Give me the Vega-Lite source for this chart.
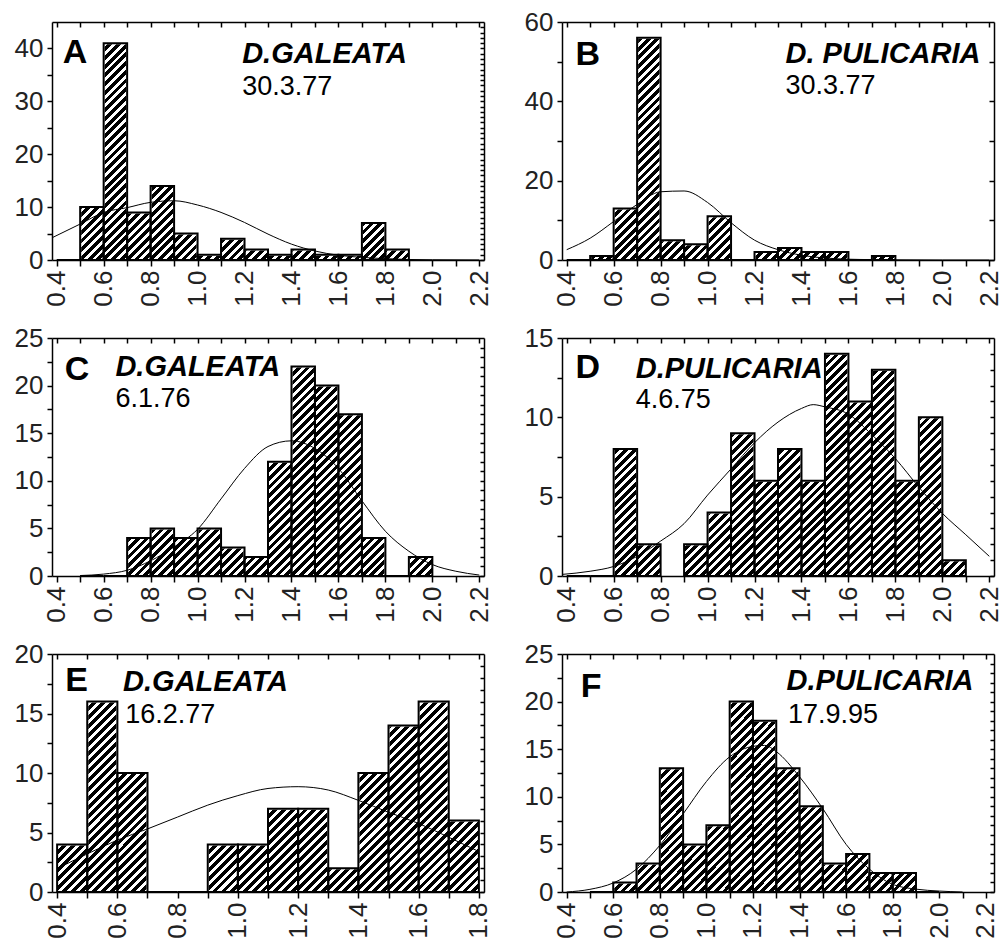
{
"$schema": "https://vega.github.io/schema/vega-lite/v6.json",
"background": "white",
"padding": {"left": 14, "top": 9, "right": 0, "bottom": 0},
"columns": 2,
"spacing": {"row": 78, "column": 78},
"bounds": "flush",
"data": {"values": [
{"p":"A","k":"b","lo":0.4,"hi":0.5,"n":0},{"p":"A","k":"b","lo":0.5,"hi":0.6,"n":10},{"p":"A","k":"b","lo":0.6,"hi":0.7,"n":41},{"p":"A","k":"b","lo":0.7,"hi":0.8,"n":9},{"p":"A","k":"b","lo":0.8,"hi":0.9,"n":14},{"p":"A","k":"b","lo":0.9,"hi":1.0,"n":5},{"p":"A","k":"b","lo":1.0,"hi":1.1,"n":1},{"p":"A","k":"b","lo":1.1,"hi":1.2,"n":4},{"p":"A","k":"b","lo":1.2,"hi":1.3,"n":2},{"p":"A","k":"b","lo":1.3,"hi":1.4,"n":1},{"p":"A","k":"b","lo":1.4,"hi":1.5,"n":2},{"p":"A","k":"b","lo":1.5,"hi":1.6,"n":1},{"p":"A","k":"b","lo":1.6,"hi":1.7,"n":1},{"p":"A","k":"b","lo":1.7,"hi":1.8,"n":7},{"p":"A","k":"b","lo":1.8,"hi":1.9,"n":2},
{"p":"B","k":"b","lo":0.4,"hi":0.5,"n":0},{"p":"B","k":"b","lo":0.5,"hi":0.6,"n":1},{"p":"B","k":"b","lo":0.6,"hi":0.7,"n":13},{"p":"B","k":"b","lo":0.7,"hi":0.8,"n":56},{"p":"B","k":"b","lo":0.8,"hi":0.9,"n":5},{"p":"B","k":"b","lo":0.9,"hi":1.0,"n":4},{"p":"B","k":"b","lo":1.0,"hi":1.1,"n":11},{"p":"B","k":"b","lo":1.1,"hi":1.2,"n":0},{"p":"B","k":"b","lo":1.2,"hi":1.3,"n":2},{"p":"B","k":"b","lo":1.3,"hi":1.4,"n":3},{"p":"B","k":"b","lo":1.4,"hi":1.5,"n":2},{"p":"B","k":"b","lo":1.5,"hi":1.6,"n":2},{"p":"B","k":"b","lo":1.6,"hi":1.7,"n":0},{"p":"B","k":"b","lo":1.7,"hi":1.8,"n":1},
{"p":"C","k":"b","lo":0.5,"hi":0.6,"n":0},{"p":"C","k":"b","lo":0.6,"hi":0.7,"n":0},{"p":"C","k":"b","lo":0.7,"hi":0.8,"n":4},{"p":"C","k":"b","lo":0.8,"hi":0.9,"n":5},{"p":"C","k":"b","lo":0.9,"hi":1.0,"n":4},{"p":"C","k":"b","lo":1.0,"hi":1.1,"n":5},{"p":"C","k":"b","lo":1.1,"hi":1.2,"n":3},{"p":"C","k":"b","lo":1.2,"hi":1.3,"n":2},{"p":"C","k":"b","lo":1.3,"hi":1.4,"n":12},{"p":"C","k":"b","lo":1.4,"hi":1.5,"n":22},{"p":"C","k":"b","lo":1.5,"hi":1.6,"n":20},{"p":"C","k":"b","lo":1.6,"hi":1.7,"n":17},{"p":"C","k":"b","lo":1.7,"hi":1.8,"n":4},{"p":"C","k":"b","lo":1.8,"hi":1.9,"n":0},{"p":"C","k":"b","lo":1.9,"hi":2.0,"n":2},
{"p":"D","k":"b","lo":0.4,"hi":0.5,"n":0},{"p":"D","k":"b","lo":0.5,"hi":0.6,"n":0},{"p":"D","k":"b","lo":0.6,"hi":0.7,"n":8},{"p":"D","k":"b","lo":0.7,"hi":0.8,"n":2},{"p":"D","k":"b","lo":0.9,"hi":1.0,"n":2},{"p":"D","k":"b","lo":1.0,"hi":1.1,"n":4},{"p":"D","k":"b","lo":1.1,"hi":1.2,"n":9},{"p":"D","k":"b","lo":1.2,"hi":1.3,"n":6},{"p":"D","k":"b","lo":1.3,"hi":1.4,"n":8},{"p":"D","k":"b","lo":1.4,"hi":1.5,"n":6},{"p":"D","k":"b","lo":1.5,"hi":1.6,"n":14},{"p":"D","k":"b","lo":1.6,"hi":1.7,"n":11},{"p":"D","k":"b","lo":1.7,"hi":1.8,"n":13},{"p":"D","k":"b","lo":1.8,"hi":1.9,"n":6},{"p":"D","k":"b","lo":1.9,"hi":2.0,"n":10},{"p":"D","k":"b","lo":2.0,"hi":2.1,"n":1},
{"p":"E","k":"b","lo":0.4,"hi":0.5,"n":4},{"p":"E","k":"b","lo":0.5,"hi":0.6,"n":16},{"p":"E","k":"b","lo":0.6,"hi":0.7,"n":10},{"p":"E","k":"b","lo":0.7,"hi":0.8,"n":0},{"p":"E","k":"b","lo":0.8,"hi":0.9,"n":0},{"p":"E","k":"b","lo":0.9,"hi":1.0,"n":4},{"p":"E","k":"b","lo":1.0,"hi":1.1,"n":4},{"p":"E","k":"b","lo":1.1,"hi":1.2,"n":7},{"p":"E","k":"b","lo":1.2,"hi":1.3,"n":7},{"p":"E","k":"b","lo":1.3,"hi":1.4,"n":2},{"p":"E","k":"b","lo":1.4,"hi":1.5,"n":10},{"p":"E","k":"b","lo":1.5,"hi":1.6,"n":14},{"p":"E","k":"b","lo":1.6,"hi":1.7,"n":16},{"p":"E","k":"b","lo":1.7,"hi":1.8,"n":6},
{"p":"F","k":"b","lo":0.5,"hi":0.6,"n":0},{"p":"F","k":"b","lo":0.6,"hi":0.7,"n":1},{"p":"F","k":"b","lo":0.7,"hi":0.8,"n":3},{"p":"F","k":"b","lo":0.8,"hi":0.9,"n":13},{"p":"F","k":"b","lo":0.9,"hi":1.0,"n":5},{"p":"F","k":"b","lo":1.0,"hi":1.1,"n":7},{"p":"F","k":"b","lo":1.1,"hi":1.2,"n":20},{"p":"F","k":"b","lo":1.2,"hi":1.3,"n":18},{"p":"F","k":"b","lo":1.3,"hi":1.4,"n":13},{"p":"F","k":"b","lo":1.4,"hi":1.5,"n":9},{"p":"F","k":"b","lo":1.5,"hi":1.6,"n":3},{"p":"F","k":"b","lo":1.6,"hi":1.7,"n":4},{"p":"F","k":"b","lo":1.7,"hi":1.8,"n":2},{"p":"F","k":"b","lo":1.8,"hi":1.9,"n":2},{"p":"F","k":"b","lo":1.9,"hi":2.0,"n":0},
{"p":"A","k":"c","x":0.38,"y":4.2},{"p":"A","k":"c","x":0.5,"y":6.8},{"p":"A","k":"c","x":0.6,"y":9.0},{"p":"A","k":"c","x":0.7,"y":9.9},{"p":"A","k":"c","x":0.8,"y":10.9},{"p":"A","k":"c","x":0.9,"y":11.2},{"p":"A","k":"c","x":1.0,"y":10.4},{"p":"A","k":"c","x":1.1,"y":9.0},{"p":"A","k":"c","x":1.2,"y":7.1},{"p":"A","k":"c","x":1.3,"y":4.9},{"p":"A","k":"c","x":1.4,"y":3.0},{"p":"A","k":"c","x":1.5,"y":1.7},{"p":"A","k":"c","x":1.6,"y":0.9},{"p":"A","k":"c","x":1.7,"y":0.5},{"p":"A","k":"c","x":1.8,"y":0.25},{"p":"A","k":"c","x":1.9,"y":0.1},{"p":"A","k":"c","x":2.0,"y":0.05},{"p":"A","k":"c","x":2.2,"y":0.01},
{"p":"B","k":"c","x":0.4,"y":2.6},{"p":"B","k":"c","x":0.5,"y":5.5},{"p":"B","k":"c","x":0.6,"y":9.7},{"p":"B","k":"c","x":0.7,"y":14},{"p":"B","k":"c","x":0.8,"y":17.2},{"p":"B","k":"c","x":0.9,"y":17.4},{"p":"B","k":"c","x":1.0,"y":14.5},{"p":"B","k":"c","x":1.1,"y":9.4},{"p":"B","k":"c","x":1.2,"y":5.0},{"p":"B","k":"c","x":1.3,"y":2.6},{"p":"B","k":"c","x":1.4,"y":1.2},{"p":"B","k":"c","x":1.5,"y":0.5},{"p":"B","k":"c","x":1.6,"y":0.2},{"p":"B","k":"c","x":1.7,"y":0.1},{"p":"B","k":"c","x":1.8,"y":0.05},{"p":"B","k":"c","x":2.0,"y":0},{"p":"B","k":"c","x":2.2,"y":0},
{"p":"C","k":"c","x":0.5,"y":0.05},{"p":"C","k":"c","x":0.6,"y":0.2},{"p":"C","k":"c","x":0.7,"y":0.6},{"p":"C","k":"c","x":0.8,"y":1.6},{"p":"C","k":"c","x":0.9,"y":3.05},{"p":"C","k":"c","x":1.0,"y":4.9},{"p":"C","k":"c","x":1.1,"y":8.1},{"p":"C","k":"c","x":1.2,"y":11.3},{"p":"C","k":"c","x":1.3,"y":13.6},{"p":"C","k":"c","x":1.4,"y":14.2},{"p":"C","k":"c","x":1.5,"y":13.4},{"p":"C","k":"c","x":1.6,"y":11.3},{"p":"C","k":"c","x":1.7,"y":7.9},{"p":"C","k":"c","x":1.8,"y":4.7},{"p":"C","k":"c","x":1.9,"y":2.6},{"p":"C","k":"c","x":2.0,"y":1.2},{"p":"C","k":"c","x":2.1,"y":0.5},{"p":"C","k":"c","x":2.2,"y":0.1},
{"p":"D","k":"c","x":0.38,"y":0.1},{"p":"D","k":"c","x":0.5,"y":0.3},{"p":"D","k":"c","x":0.6,"y":0.6},{"p":"D","k":"c","x":0.7,"y":1.24},{"p":"D","k":"c","x":0.8,"y":2.2},{"p":"D","k":"c","x":0.9,"y":3.3},{"p":"D","k":"c","x":1.0,"y":5.1},{"p":"D","k":"c","x":1.1,"y":6.75},{"p":"D","k":"c","x":1.2,"y":8.4},{"p":"D","k":"c","x":1.3,"y":9.7},{"p":"D","k":"c","x":1.4,"y":10.56},{"p":"D","k":"c","x":1.45,"y":10.8},{"p":"D","k":"c","x":1.5,"y":10.66},{"p":"D","k":"c","x":1.6,"y":10.2},{"p":"D","k":"c","x":1.7,"y":8.9},{"p":"D","k":"c","x":1.8,"y":7.4},{"p":"D","k":"c","x":1.9,"y":5.6},{"p":"D","k":"c","x":2.0,"y":3.95},{"p":"D","k":"c","x":2.1,"y":2.6},{"p":"D","k":"c","x":2.2,"y":1.24},
{"p":"E","k":"c","x":0.4,"y":1.97},{"p":"E","k":"c","x":0.5,"y":3.2},{"p":"E","k":"c","x":0.6,"y":4.36},{"p":"E","k":"c","x":0.7,"y":5.3},{"p":"E","k":"c","x":0.8,"y":6.3},{"p":"E","k":"c","x":0.9,"y":7.3},{"p":"E","k":"c","x":1.0,"y":8.1},{"p":"E","k":"c","x":1.1,"y":8.7},{"p":"E","k":"c","x":1.2,"y":8.85},{"p":"E","k":"c","x":1.3,"y":8.57},{"p":"E","k":"c","x":1.4,"y":7.7},{"p":"E","k":"c","x":1.5,"y":6.7},{"p":"E","k":"c","x":1.6,"y":5.76},{"p":"E","k":"c","x":1.7,"y":4.6},{"p":"E","k":"c","x":1.8,"y":3.4},
{"p":"F","k":"c","x":0.4,"y":0},{"p":"F","k":"c","x":0.5,"y":0.28},{"p":"F","k":"c","x":0.6,"y":0.95},{"p":"F","k":"c","x":0.7,"y":2.4},{"p":"F","k":"c","x":0.8,"y":4.9},{"p":"F","k":"c","x":0.9,"y":8.2},{"p":"F","k":"c","x":1.0,"y":11.6},{"p":"F","k":"c","x":1.1,"y":14.2},{"p":"F","k":"c","x":1.2,"y":15.3},{"p":"F","k":"c","x":1.25,"y":15.4},{"p":"F","k":"c","x":1.3,"y":14.75},{"p":"F","k":"c","x":1.4,"y":12.1},{"p":"F","k":"c","x":1.5,"y":8.75},{"p":"F","k":"c","x":1.6,"y":5.0},{"p":"F","k":"c","x":1.7,"y":2.4},{"p":"F","k":"c","x":1.8,"y":0.8},{"p":"F","k":"c","x":1.9,"y":0.3},{"p":"F","k":"c","x":2.0,"y":0.1},{"p":"F","k":"c","x":2.1,"y":0},
{"p":"A","k":"lt","t":"A","x":0.426,"y":37.3},{"p":"A","k":"sp","t":"D.GALEATA","x":1.19,"y":37.3},{"p":"A","k":"dt","t":"30.3.77","x":1.19,"y":31.25},
{"p":"B","k":"lt","t":"B","x":0.438,"y":49.25},{"p":"B","k":"sp","t":"D. PULICARIA","x":1.332,"y":49.7},{"p":"B","k":"dt","t":"30.3.77","x":1.332,"y":41.75},
{"p":"C","k":"lt","t":"C","x":0.434,"y":20.6},{"p":"C","k":"sp","t":"D.GALEATA","x":0.65,"y":20.96},{"p":"C","k":"dt","t":"6.1.76","x":0.65,"y":17.7},
{"p":"D","k":"lt","t":"D","x":0.438,"y":12.5},{"p":"D","k":"sp","t":"D.PULICARIA","x":0.694,"y":12.5},{"p":"D","k":"dt","t":"4.6.75","x":0.694,"y":10.56},
{"p":"E","k":"lt","t":"E","x":0.427,"y":16.85},{"p":"E","k":"sp","t":"D.GALEATA","x":0.619,"y":16.85},{"p":"E","k":"dt","t":"16.2.77","x":0.626,"y":14.19},
{"p":"F","k":"lt","t":"F","x":0.46,"y":20.5},{"p":"F","k":"sp","t":"D.PULICARIA","x":1.344,"y":21.2},{"p":"F","k":"dt","t":"17.9.95","x":1.35,"y":17.8}
]},
"concat": [
{"width":432,"height":238,"resolve":{"axis":{"x":"independent","y":"independent"}},"layer":[
 {"transform":[{"filter":"datum.p=='A'&&datum.k=='b'"}],"mark":{"type":"rect","fill":{"gradient":"linear","x1":0,"y1":0,"x2":0.10734,"y2":1.08806,"stops":[{"offset":0,"color":"#000"},{"offset":0.01833,"color":"#000"},{"offset":0.01833,"color":"#fff"},{"offset":0.03333,"color":"#fff"},{"offset":0.03333,"color":"#000"},{"offset":0.05167,"color":"#000"},{"offset":0.05167,"color":"#fff"},{"offset":0.06667,"color":"#fff"},{"offset":0.06667,"color":"#000"},{"offset":0.085,"color":"#000"},{"offset":0.085,"color":"#fff"},{"offset":0.1,"color":"#fff"},{"offset":0.1,"color":"#000"},{"offset":0.11833,"color":"#000"},{"offset":0.11833,"color":"#fff"},{"offset":0.13333,"color":"#fff"},{"offset":0.13333,"color":"#000"},{"offset":0.15167,"color":"#000"},{"offset":0.15167,"color":"#fff"},{"offset":0.16667,"color":"#fff"},{"offset":0.16667,"color":"#000"},{"offset":0.185,"color":"#000"},{"offset":0.185,"color":"#fff"},{"offset":0.2,"color":"#fff"},{"offset":0.2,"color":"#000"},{"offset":0.21833,"color":"#000"},{"offset":0.21833,"color":"#fff"},{"offset":0.23333,"color":"#fff"},{"offset":0.23333,"color":"#000"},{"offset":0.25167,"color":"#000"},{"offset":0.25167,"color":"#fff"},{"offset":0.26667,"color":"#fff"},{"offset":0.26667,"color":"#000"},{"offset":0.285,"color":"#000"},{"offset":0.285,"color":"#fff"},{"offset":0.3,"color":"#fff"},{"offset":0.3,"color":"#000"},{"offset":0.31833,"color":"#000"},{"offset":0.31833,"color":"#fff"},{"offset":0.33333,"color":"#fff"},{"offset":0.33333,"color":"#000"},{"offset":0.35167,"color":"#000"},{"offset":0.35167,"color":"#fff"},{"offset":0.36667,"color":"#fff"},{"offset":0.36667,"color":"#000"},{"offset":0.385,"color":"#000"},{"offset":0.385,"color":"#fff"},{"offset":0.4,"color":"#fff"},{"offset":0.4,"color":"#000"},{"offset":0.41833,"color":"#000"},{"offset":0.41833,"color":"#fff"},{"offset":0.43333,"color":"#fff"},{"offset":0.43333,"color":"#000"},{"offset":0.45167,"color":"#000"},{"offset":0.45167,"color":"#fff"},{"offset":0.46667,"color":"#fff"},{"offset":0.46667,"color":"#000"},{"offset":0.485,"color":"#000"},{"offset":0.485,"color":"#fff"},{"offset":0.5,"color":"#fff"},{"offset":0.5,"color":"#000"},{"offset":0.51833,"color":"#000"},{"offset":0.51833,"color":"#fff"},{"offset":0.53333,"color":"#fff"},{"offset":0.53333,"color":"#000"},{"offset":0.55167,"color":"#000"},{"offset":0.55167,"color":"#fff"},{"offset":0.56667,"color":"#fff"},{"offset":0.56667,"color":"#000"},{"offset":0.585,"color":"#000"},{"offset":0.585,"color":"#fff"},{"offset":0.6,"color":"#fff"},{"offset":0.6,"color":"#000"},{"offset":0.61833,"color":"#000"},{"offset":0.61833,"color":"#fff"},{"offset":0.63333,"color":"#fff"},{"offset":0.63333,"color":"#000"},{"offset":0.65167,"color":"#000"},{"offset":0.65167,"color":"#fff"},{"offset":0.66667,"color":"#fff"},{"offset":0.66667,"color":"#000"},{"offset":0.685,"color":"#000"},{"offset":0.685,"color":"#fff"},{"offset":0.7,"color":"#fff"},{"offset":0.7,"color":"#000"},{"offset":0.71833,"color":"#000"},{"offset":0.71833,"color":"#fff"},{"offset":0.73333,"color":"#fff"},{"offset":0.73333,"color":"#000"},{"offset":0.75167,"color":"#000"},{"offset":0.75167,"color":"#fff"},{"offset":0.76667,"color":"#fff"},{"offset":0.76667,"color":"#000"},{"offset":0.785,"color":"#000"},{"offset":0.785,"color":"#fff"},{"offset":0.8,"color":"#fff"},{"offset":0.8,"color":"#000"},{"offset":0.81833,"color":"#000"},{"offset":0.81833,"color":"#fff"},{"offset":0.83333,"color":"#fff"},{"offset":0.83333,"color":"#000"},{"offset":0.85167,"color":"#000"},{"offset":0.85167,"color":"#fff"},{"offset":0.86667,"color":"#fff"},{"offset":0.86667,"color":"#000"},{"offset":0.885,"color":"#000"},{"offset":0.885,"color":"#fff"},{"offset":0.9,"color":"#fff"},{"offset":0.9,"color":"#000"},{"offset":0.91833,"color":"#000"},{"offset":0.91833,"color":"#fff"},{"offset":0.93333,"color":"#fff"},{"offset":0.93333,"color":"#000"},{"offset":0.95167,"color":"#000"},{"offset":0.95167,"color":"#fff"},{"offset":0.96667,"color":"#fff"},{"offset":0.96667,"color":"#000"},{"offset":0.985,"color":"#000"},{"offset":0.985,"color":"#fff"},{"offset":1,"color":"#fff"}]}},"encoding":{"x":{"field":"lo","type":"quantitative","scale":{"domain":[0.38,2.22],"nice":false,"zero":false},"axis":{"orient":"top","values":[0.4,0.5,0.6,0.7,0.8,0.9,1,1.1,1.2,1.3,1.4,1.5,1.6,1.7,1.8,1.9,2,2.1,2.2],"labels":false,"tickSize":-5,"title":null,"zindex":2}},"x2":{"field":"hi"},"y":{"datum":0,"type":"quantitative","scale":{"domain":[0,45],"nice":false,"zero":false},"axis":null},"y2":{"datum":45}}},
 {"transform":[{"filter":"datum.p=='A'&&datum.k=='b'"}],"mark":{"type":"rect","fill":"white","stroke":"white","strokeWidth":2},"encoding":{"x":{"field":"lo","type":"quantitative","axis":null},"x2":{"field":"hi"},"y":{"field":"n","type":"quantitative","axis":{"orient":"right","values":[0,1,2,3,4,5,6,7,8,9,10,11,12,13,14,15,16,17,18,19,20,21,22,23,24,25,26,27,28,29,30,31,32,33,34,35,36,37,38,39,40,41,42,43,44],"labels":false,"tickSize":-4,"title":null,"zindex":2}},"y2":{"datum":45}}},
 {"transform":[{"filter":"datum.p=='A'&&datum.k=='b'"}],"mark":{"type":"rect","fill":"transparent","stroke":"black","strokeWidth":2},"encoding":{"x":{"field":"lo","type":"quantitative","axis":{"orient":"bottom","values":[0.4,0.5,0.6,0.7,0.8,0.9,1,1.1,1.2,1.3,1.4,1.5,1.6,1.7,1.8,1.9,2,2.1,2.2],"labelExpr":"abs(round(datum.value*10))%2==0 ? format(datum.value,'.1f') : ''","labelAngle":270,"tickSize":6,"labelPadding":4,"title":null,"zindex":2}},"x2":{"field":"hi"},"y":{"field":"n","type":"quantitative","axis":{"orient":"left","values":[0,5,10,15,20,25,30,35,40],"labelExpr":"datum.value%10==0 ? datum.label : ''","tickSize":5,"labelPadding":4,"title":null,"zindex":2}},"y2":{"datum":0}}},
 {"transform":[{"filter":"datum.p=='A'&&datum.k=='c'"}],"mark":{"type":"line","color":"black","strokeWidth":1,"interpolate":"monotone","clip":true},"encoding":{"x":{"field":"x","type":"quantitative","axis":null},"y":{"field":"y","type":"quantitative","axis":null}}},
 {"transform":[{"filter":"datum.p=='A'&&datum.k=='lt'"}],"mark":{"type":"text","style":"letter"},"encoding":{"x":{"field":"x","type":"quantitative","axis":null},"y":{"field":"y","type":"quantitative","axis":null},"text":{"field":"t"}}},
 {"transform":[{"filter":"datum.p=='A'&&datum.k=='sp'"}],"mark":{"type":"text","style":"species"},"encoding":{"x":{"field":"x","type":"quantitative","axis":null},"y":{"field":"y","type":"quantitative","axis":null},"text":{"field":"t"}}},
 {"transform":[{"filter":"datum.p=='A'&&datum.k=='dt'"}],"mark":{"type":"text","style":"date"},"encoding":{"x":{"field":"x","type":"quantitative","axis":null},"y":{"field":"y","type":"quantitative","axis":null},"text":{"field":"t"}}}
]},
{"width":432,"height":238,"resolve":{"axis":{"x":"independent","y":"independent"}},"layer":[
 {"transform":[{"filter":"datum.p=='B'&&datum.k=='b'"}],"mark":{"type":"rect","fill":{"gradient":"linear","x1":0,"y1":0,"x2":0.10734,"y2":1.08806,"stops":[{"offset":0,"color":"#000"},{"offset":0.01833,"color":"#000"},{"offset":0.01833,"color":"#fff"},{"offset":0.03333,"color":"#fff"},{"offset":0.03333,"color":"#000"},{"offset":0.05167,"color":"#000"},{"offset":0.05167,"color":"#fff"},{"offset":0.06667,"color":"#fff"},{"offset":0.06667,"color":"#000"},{"offset":0.085,"color":"#000"},{"offset":0.085,"color":"#fff"},{"offset":0.1,"color":"#fff"},{"offset":0.1,"color":"#000"},{"offset":0.11833,"color":"#000"},{"offset":0.11833,"color":"#fff"},{"offset":0.13333,"color":"#fff"},{"offset":0.13333,"color":"#000"},{"offset":0.15167,"color":"#000"},{"offset":0.15167,"color":"#fff"},{"offset":0.16667,"color":"#fff"},{"offset":0.16667,"color":"#000"},{"offset":0.185,"color":"#000"},{"offset":0.185,"color":"#fff"},{"offset":0.2,"color":"#fff"},{"offset":0.2,"color":"#000"},{"offset":0.21833,"color":"#000"},{"offset":0.21833,"color":"#fff"},{"offset":0.23333,"color":"#fff"},{"offset":0.23333,"color":"#000"},{"offset":0.25167,"color":"#000"},{"offset":0.25167,"color":"#fff"},{"offset":0.26667,"color":"#fff"},{"offset":0.26667,"color":"#000"},{"offset":0.285,"color":"#000"},{"offset":0.285,"color":"#fff"},{"offset":0.3,"color":"#fff"},{"offset":0.3,"color":"#000"},{"offset":0.31833,"color":"#000"},{"offset":0.31833,"color":"#fff"},{"offset":0.33333,"color":"#fff"},{"offset":0.33333,"color":"#000"},{"offset":0.35167,"color":"#000"},{"offset":0.35167,"color":"#fff"},{"offset":0.36667,"color":"#fff"},{"offset":0.36667,"color":"#000"},{"offset":0.385,"color":"#000"},{"offset":0.385,"color":"#fff"},{"offset":0.4,"color":"#fff"},{"offset":0.4,"color":"#000"},{"offset":0.41833,"color":"#000"},{"offset":0.41833,"color":"#fff"},{"offset":0.43333,"color":"#fff"},{"offset":0.43333,"color":"#000"},{"offset":0.45167,"color":"#000"},{"offset":0.45167,"color":"#fff"},{"offset":0.46667,"color":"#fff"},{"offset":0.46667,"color":"#000"},{"offset":0.485,"color":"#000"},{"offset":0.485,"color":"#fff"},{"offset":0.5,"color":"#fff"},{"offset":0.5,"color":"#000"},{"offset":0.51833,"color":"#000"},{"offset":0.51833,"color":"#fff"},{"offset":0.53333,"color":"#fff"},{"offset":0.53333,"color":"#000"},{"offset":0.55167,"color":"#000"},{"offset":0.55167,"color":"#fff"},{"offset":0.56667,"color":"#fff"},{"offset":0.56667,"color":"#000"},{"offset":0.585,"color":"#000"},{"offset":0.585,"color":"#fff"},{"offset":0.6,"color":"#fff"},{"offset":0.6,"color":"#000"},{"offset":0.61833,"color":"#000"},{"offset":0.61833,"color":"#fff"},{"offset":0.63333,"color":"#fff"},{"offset":0.63333,"color":"#000"},{"offset":0.65167,"color":"#000"},{"offset":0.65167,"color":"#fff"},{"offset":0.66667,"color":"#fff"},{"offset":0.66667,"color":"#000"},{"offset":0.685,"color":"#000"},{"offset":0.685,"color":"#fff"},{"offset":0.7,"color":"#fff"},{"offset":0.7,"color":"#000"},{"offset":0.71833,"color":"#000"},{"offset":0.71833,"color":"#fff"},{"offset":0.73333,"color":"#fff"},{"offset":0.73333,"color":"#000"},{"offset":0.75167,"color":"#000"},{"offset":0.75167,"color":"#fff"},{"offset":0.76667,"color":"#fff"},{"offset":0.76667,"color":"#000"},{"offset":0.785,"color":"#000"},{"offset":0.785,"color":"#fff"},{"offset":0.8,"color":"#fff"},{"offset":0.8,"color":"#000"},{"offset":0.81833,"color":"#000"},{"offset":0.81833,"color":"#fff"},{"offset":0.83333,"color":"#fff"},{"offset":0.83333,"color":"#000"},{"offset":0.85167,"color":"#000"},{"offset":0.85167,"color":"#fff"},{"offset":0.86667,"color":"#fff"},{"offset":0.86667,"color":"#000"},{"offset":0.885,"color":"#000"},{"offset":0.885,"color":"#fff"},{"offset":0.9,"color":"#fff"},{"offset":0.9,"color":"#000"},{"offset":0.91833,"color":"#000"},{"offset":0.91833,"color":"#fff"},{"offset":0.93333,"color":"#fff"},{"offset":0.93333,"color":"#000"},{"offset":0.95167,"color":"#000"},{"offset":0.95167,"color":"#fff"},{"offset":0.96667,"color":"#fff"},{"offset":0.96667,"color":"#000"},{"offset":0.985,"color":"#000"},{"offset":0.985,"color":"#fff"},{"offset":1,"color":"#fff"}]}},"encoding":{"x":{"field":"lo","type":"quantitative","scale":{"domain":[0.38,2.22],"nice":false,"zero":false},"axis":{"orient":"top","values":[0.4,0.5,0.6,0.7,0.8,0.9,1,1.1,1.2,1.3,1.4,1.5,1.6,1.7,1.8,1.9,2,2.1,2.2],"labels":false,"tickSize":-5,"title":null,"zindex":2}},"x2":{"field":"hi"},"y":{"datum":0,"type":"quantitative","scale":{"domain":[0,60],"nice":false,"zero":false},"axis":null},"y2":{"datum":60}}},
 {"transform":[{"filter":"datum.p=='B'&&datum.k=='b'"}],"mark":{"type":"rect","fill":"white","stroke":"white","strokeWidth":2},"encoding":{"x":{"field":"lo","type":"quantitative","axis":null},"x2":{"field":"hi"},"y":{"field":"n","type":"quantitative","axis":{"orient":"right","values":[0,10,20,30,40,50],"labels":false,"tickSize":-5,"title":null,"zindex":2}},"y2":{"datum":60}}},
 {"transform":[{"filter":"datum.p=='B'&&datum.k=='b'"}],"mark":{"type":"rect","fill":"transparent","stroke":"black","strokeWidth":2},"encoding":{"x":{"field":"lo","type":"quantitative","axis":{"orient":"bottom","values":[0.4,0.5,0.6,0.7,0.8,0.9,1,1.1,1.2,1.3,1.4,1.5,1.6,1.7,1.8,1.9,2,2.1,2.2],"labelExpr":"abs(round(datum.value*10))%2==0 ? format(datum.value,'.1f') : ''","labelAngle":270,"tickSize":6,"labelPadding":4,"title":null,"zindex":2}},"x2":{"field":"hi"},"y":{"field":"n","type":"quantitative","axis":{"orient":"left","values":[0,10,20,30,40,50,60],"labelExpr":"datum.value%20==0 ? datum.label : ''","tickSize":5,"labelPadding":4,"title":null,"zindex":2}},"y2":{"datum":0}}},
 {"transform":[{"filter":"datum.p=='B'&&datum.k=='c'"}],"mark":{"type":"line","color":"black","strokeWidth":1,"interpolate":"monotone","clip":true},"encoding":{"x":{"field":"x","type":"quantitative","axis":null},"y":{"field":"y","type":"quantitative","axis":null}}},
 {"transform":[{"filter":"datum.p=='B'&&datum.k=='lt'"}],"mark":{"type":"text","style":"letter"},"encoding":{"x":{"field":"x","type":"quantitative","axis":null},"y":{"field":"y","type":"quantitative","axis":null},"text":{"field":"t"}}},
 {"transform":[{"filter":"datum.p=='B'&&datum.k=='sp'"}],"mark":{"type":"text","style":"species"},"encoding":{"x":{"field":"x","type":"quantitative","axis":null},"y":{"field":"y","type":"quantitative","axis":null},"text":{"field":"t"}}},
 {"transform":[{"filter":"datum.p=='B'&&datum.k=='dt'"}],"mark":{"type":"text","style":"date"},"encoding":{"x":{"field":"x","type":"quantitative","axis":null},"y":{"field":"y","type":"quantitative","axis":null},"text":{"field":"t"}}}
]},
{"width":432,"height":238,"resolve":{"axis":{"x":"independent","y":"independent"}},"layer":[
 {"transform":[{"filter":"datum.p=='C'&&datum.k=='b'"}],"mark":{"type":"rect","fill":{"gradient":"linear","x1":0,"y1":0,"x2":0.10734,"y2":1.08806,"stops":[{"offset":0,"color":"#000"},{"offset":0.01833,"color":"#000"},{"offset":0.01833,"color":"#fff"},{"offset":0.03333,"color":"#fff"},{"offset":0.03333,"color":"#000"},{"offset":0.05167,"color":"#000"},{"offset":0.05167,"color":"#fff"},{"offset":0.06667,"color":"#fff"},{"offset":0.06667,"color":"#000"},{"offset":0.085,"color":"#000"},{"offset":0.085,"color":"#fff"},{"offset":0.1,"color":"#fff"},{"offset":0.1,"color":"#000"},{"offset":0.11833,"color":"#000"},{"offset":0.11833,"color":"#fff"},{"offset":0.13333,"color":"#fff"},{"offset":0.13333,"color":"#000"},{"offset":0.15167,"color":"#000"},{"offset":0.15167,"color":"#fff"},{"offset":0.16667,"color":"#fff"},{"offset":0.16667,"color":"#000"},{"offset":0.185,"color":"#000"},{"offset":0.185,"color":"#fff"},{"offset":0.2,"color":"#fff"},{"offset":0.2,"color":"#000"},{"offset":0.21833,"color":"#000"},{"offset":0.21833,"color":"#fff"},{"offset":0.23333,"color":"#fff"},{"offset":0.23333,"color":"#000"},{"offset":0.25167,"color":"#000"},{"offset":0.25167,"color":"#fff"},{"offset":0.26667,"color":"#fff"},{"offset":0.26667,"color":"#000"},{"offset":0.285,"color":"#000"},{"offset":0.285,"color":"#fff"},{"offset":0.3,"color":"#fff"},{"offset":0.3,"color":"#000"},{"offset":0.31833,"color":"#000"},{"offset":0.31833,"color":"#fff"},{"offset":0.33333,"color":"#fff"},{"offset":0.33333,"color":"#000"},{"offset":0.35167,"color":"#000"},{"offset":0.35167,"color":"#fff"},{"offset":0.36667,"color":"#fff"},{"offset":0.36667,"color":"#000"},{"offset":0.385,"color":"#000"},{"offset":0.385,"color":"#fff"},{"offset":0.4,"color":"#fff"},{"offset":0.4,"color":"#000"},{"offset":0.41833,"color":"#000"},{"offset":0.41833,"color":"#fff"},{"offset":0.43333,"color":"#fff"},{"offset":0.43333,"color":"#000"},{"offset":0.45167,"color":"#000"},{"offset":0.45167,"color":"#fff"},{"offset":0.46667,"color":"#fff"},{"offset":0.46667,"color":"#000"},{"offset":0.485,"color":"#000"},{"offset":0.485,"color":"#fff"},{"offset":0.5,"color":"#fff"},{"offset":0.5,"color":"#000"},{"offset":0.51833,"color":"#000"},{"offset":0.51833,"color":"#fff"},{"offset":0.53333,"color":"#fff"},{"offset":0.53333,"color":"#000"},{"offset":0.55167,"color":"#000"},{"offset":0.55167,"color":"#fff"},{"offset":0.56667,"color":"#fff"},{"offset":0.56667,"color":"#000"},{"offset":0.585,"color":"#000"},{"offset":0.585,"color":"#fff"},{"offset":0.6,"color":"#fff"},{"offset":0.6,"color":"#000"},{"offset":0.61833,"color":"#000"},{"offset":0.61833,"color":"#fff"},{"offset":0.63333,"color":"#fff"},{"offset":0.63333,"color":"#000"},{"offset":0.65167,"color":"#000"},{"offset":0.65167,"color":"#fff"},{"offset":0.66667,"color":"#fff"},{"offset":0.66667,"color":"#000"},{"offset":0.685,"color":"#000"},{"offset":0.685,"color":"#fff"},{"offset":0.7,"color":"#fff"},{"offset":0.7,"color":"#000"},{"offset":0.71833,"color":"#000"},{"offset":0.71833,"color":"#fff"},{"offset":0.73333,"color":"#fff"},{"offset":0.73333,"color":"#000"},{"offset":0.75167,"color":"#000"},{"offset":0.75167,"color":"#fff"},{"offset":0.76667,"color":"#fff"},{"offset":0.76667,"color":"#000"},{"offset":0.785,"color":"#000"},{"offset":0.785,"color":"#fff"},{"offset":0.8,"color":"#fff"},{"offset":0.8,"color":"#000"},{"offset":0.81833,"color":"#000"},{"offset":0.81833,"color":"#fff"},{"offset":0.83333,"color":"#fff"},{"offset":0.83333,"color":"#000"},{"offset":0.85167,"color":"#000"},{"offset":0.85167,"color":"#fff"},{"offset":0.86667,"color":"#fff"},{"offset":0.86667,"color":"#000"},{"offset":0.885,"color":"#000"},{"offset":0.885,"color":"#fff"},{"offset":0.9,"color":"#fff"},{"offset":0.9,"color":"#000"},{"offset":0.91833,"color":"#000"},{"offset":0.91833,"color":"#fff"},{"offset":0.93333,"color":"#fff"},{"offset":0.93333,"color":"#000"},{"offset":0.95167,"color":"#000"},{"offset":0.95167,"color":"#fff"},{"offset":0.96667,"color":"#fff"},{"offset":0.96667,"color":"#000"},{"offset":0.985,"color":"#000"},{"offset":0.985,"color":"#fff"},{"offset":1,"color":"#fff"}]}},"encoding":{"x":{"field":"lo","type":"quantitative","scale":{"domain":[0.38,2.22],"nice":false,"zero":false},"axis":{"orient":"top","values":[0.4,0.5,0.6,0.7,0.8,0.9,1,1.1,1.2,1.3,1.4,1.5,1.6,1.7,1.8,1.9,2,2.1,2.2],"labels":false,"tickSize":-5,"title":null,"zindex":2}},"x2":{"field":"hi"},"y":{"datum":0,"type":"quantitative","scale":{"domain":[0,25],"nice":false,"zero":false},"axis":null},"y2":{"datum":25}}},
 {"transform":[{"filter":"datum.p=='C'&&datum.k=='b'"}],"mark":{"type":"rect","fill":"white","stroke":"white","strokeWidth":2},"encoding":{"x":{"field":"lo","type":"quantitative","axis":null},"x2":{"field":"hi"},"y":{"field":"n","type":"quantitative","axis":{"orient":"right","values":[0,1,2,3,4,5,6,7,8,9,10,11,12,13,14,15,16,17,18,19,20,21,22,23,24],"labels":false,"tickSize":-4,"title":null,"zindex":2}},"y2":{"datum":25}}},
 {"transform":[{"filter":"datum.p=='C'&&datum.k=='b'"}],"mark":{"type":"rect","fill":"transparent","stroke":"black","strokeWidth":2},"encoding":{"x":{"field":"lo","type":"quantitative","axis":{"orient":"bottom","values":[0.4,0.5,0.6,0.7,0.8,0.9,1,1.1,1.2,1.3,1.4,1.5,1.6,1.7,1.8,1.9,2,2.1,2.2],"labelExpr":"abs(round(datum.value*10))%2==0 ? format(datum.value,'.1f') : ''","labelAngle":270,"tickSize":6,"labelPadding":4,"title":null,"zindex":2}},"x2":{"field":"hi"},"y":{"field":"n","type":"quantitative","axis":{"orient":"left","values":[0,2.5,5,7.5,10,12.5,15,17.5,20,22.5,25],"labelExpr":"datum.value%5==0 ? datum.label : ''","tickSize":5,"labelPadding":4,"title":null,"zindex":2}},"y2":{"datum":0}}},
 {"transform":[{"filter":"datum.p=='C'&&datum.k=='c'"}],"mark":{"type":"line","color":"black","strokeWidth":1,"interpolate":"monotone","clip":true},"encoding":{"x":{"field":"x","type":"quantitative","axis":null},"y":{"field":"y","type":"quantitative","axis":null}}},
 {"transform":[{"filter":"datum.p=='C'&&datum.k=='lt'"}],"mark":{"type":"text","style":"letter"},"encoding":{"x":{"field":"x","type":"quantitative","axis":null},"y":{"field":"y","type":"quantitative","axis":null},"text":{"field":"t"}}},
 {"transform":[{"filter":"datum.p=='C'&&datum.k=='sp'"}],"mark":{"type":"text","style":"species"},"encoding":{"x":{"field":"x","type":"quantitative","axis":null},"y":{"field":"y","type":"quantitative","axis":null},"text":{"field":"t"}}},
 {"transform":[{"filter":"datum.p=='C'&&datum.k=='dt'"}],"mark":{"type":"text","style":"date"},"encoding":{"x":{"field":"x","type":"quantitative","axis":null},"y":{"field":"y","type":"quantitative","axis":null},"text":{"field":"t"}}}
]},
{"width":432,"height":238,"resolve":{"axis":{"x":"independent","y":"independent"}},"layer":[
 {"transform":[{"filter":"datum.p=='D'&&datum.k=='b'"}],"mark":{"type":"rect","fill":{"gradient":"linear","x1":0,"y1":0,"x2":0.10734,"y2":1.08806,"stops":[{"offset":0,"color":"#000"},{"offset":0.01833,"color":"#000"},{"offset":0.01833,"color":"#fff"},{"offset":0.03333,"color":"#fff"},{"offset":0.03333,"color":"#000"},{"offset":0.05167,"color":"#000"},{"offset":0.05167,"color":"#fff"},{"offset":0.06667,"color":"#fff"},{"offset":0.06667,"color":"#000"},{"offset":0.085,"color":"#000"},{"offset":0.085,"color":"#fff"},{"offset":0.1,"color":"#fff"},{"offset":0.1,"color":"#000"},{"offset":0.11833,"color":"#000"},{"offset":0.11833,"color":"#fff"},{"offset":0.13333,"color":"#fff"},{"offset":0.13333,"color":"#000"},{"offset":0.15167,"color":"#000"},{"offset":0.15167,"color":"#fff"},{"offset":0.16667,"color":"#fff"},{"offset":0.16667,"color":"#000"},{"offset":0.185,"color":"#000"},{"offset":0.185,"color":"#fff"},{"offset":0.2,"color":"#fff"},{"offset":0.2,"color":"#000"},{"offset":0.21833,"color":"#000"},{"offset":0.21833,"color":"#fff"},{"offset":0.23333,"color":"#fff"},{"offset":0.23333,"color":"#000"},{"offset":0.25167,"color":"#000"},{"offset":0.25167,"color":"#fff"},{"offset":0.26667,"color":"#fff"},{"offset":0.26667,"color":"#000"},{"offset":0.285,"color":"#000"},{"offset":0.285,"color":"#fff"},{"offset":0.3,"color":"#fff"},{"offset":0.3,"color":"#000"},{"offset":0.31833,"color":"#000"},{"offset":0.31833,"color":"#fff"},{"offset":0.33333,"color":"#fff"},{"offset":0.33333,"color":"#000"},{"offset":0.35167,"color":"#000"},{"offset":0.35167,"color":"#fff"},{"offset":0.36667,"color":"#fff"},{"offset":0.36667,"color":"#000"},{"offset":0.385,"color":"#000"},{"offset":0.385,"color":"#fff"},{"offset":0.4,"color":"#fff"},{"offset":0.4,"color":"#000"},{"offset":0.41833,"color":"#000"},{"offset":0.41833,"color":"#fff"},{"offset":0.43333,"color":"#fff"},{"offset":0.43333,"color":"#000"},{"offset":0.45167,"color":"#000"},{"offset":0.45167,"color":"#fff"},{"offset":0.46667,"color":"#fff"},{"offset":0.46667,"color":"#000"},{"offset":0.485,"color":"#000"},{"offset":0.485,"color":"#fff"},{"offset":0.5,"color":"#fff"},{"offset":0.5,"color":"#000"},{"offset":0.51833,"color":"#000"},{"offset":0.51833,"color":"#fff"},{"offset":0.53333,"color":"#fff"},{"offset":0.53333,"color":"#000"},{"offset":0.55167,"color":"#000"},{"offset":0.55167,"color":"#fff"},{"offset":0.56667,"color":"#fff"},{"offset":0.56667,"color":"#000"},{"offset":0.585,"color":"#000"},{"offset":0.585,"color":"#fff"},{"offset":0.6,"color":"#fff"},{"offset":0.6,"color":"#000"},{"offset":0.61833,"color":"#000"},{"offset":0.61833,"color":"#fff"},{"offset":0.63333,"color":"#fff"},{"offset":0.63333,"color":"#000"},{"offset":0.65167,"color":"#000"},{"offset":0.65167,"color":"#fff"},{"offset":0.66667,"color":"#fff"},{"offset":0.66667,"color":"#000"},{"offset":0.685,"color":"#000"},{"offset":0.685,"color":"#fff"},{"offset":0.7,"color":"#fff"},{"offset":0.7,"color":"#000"},{"offset":0.71833,"color":"#000"},{"offset":0.71833,"color":"#fff"},{"offset":0.73333,"color":"#fff"},{"offset":0.73333,"color":"#000"},{"offset":0.75167,"color":"#000"},{"offset":0.75167,"color":"#fff"},{"offset":0.76667,"color":"#fff"},{"offset":0.76667,"color":"#000"},{"offset":0.785,"color":"#000"},{"offset":0.785,"color":"#fff"},{"offset":0.8,"color":"#fff"},{"offset":0.8,"color":"#000"},{"offset":0.81833,"color":"#000"},{"offset":0.81833,"color":"#fff"},{"offset":0.83333,"color":"#fff"},{"offset":0.83333,"color":"#000"},{"offset":0.85167,"color":"#000"},{"offset":0.85167,"color":"#fff"},{"offset":0.86667,"color":"#fff"},{"offset":0.86667,"color":"#000"},{"offset":0.885,"color":"#000"},{"offset":0.885,"color":"#fff"},{"offset":0.9,"color":"#fff"},{"offset":0.9,"color":"#000"},{"offset":0.91833,"color":"#000"},{"offset":0.91833,"color":"#fff"},{"offset":0.93333,"color":"#fff"},{"offset":0.93333,"color":"#000"},{"offset":0.95167,"color":"#000"},{"offset":0.95167,"color":"#fff"},{"offset":0.96667,"color":"#fff"},{"offset":0.96667,"color":"#000"},{"offset":0.985,"color":"#000"},{"offset":0.985,"color":"#fff"},{"offset":1,"color":"#fff"}]}},"encoding":{"x":{"field":"lo","type":"quantitative","scale":{"domain":[0.38,2.22],"nice":false,"zero":false},"axis":{"orient":"top","values":[0.4,0.5,0.6,0.7,0.8,0.9,1,1.1,1.2,1.3,1.4,1.5,1.6,1.7,1.8,1.9,2,2.1,2.2],"labels":false,"tickSize":-5,"title":null,"zindex":2}},"x2":{"field":"hi"},"y":{"datum":0,"type":"quantitative","scale":{"domain":[0,15],"nice":false,"zero":false},"axis":null},"y2":{"datum":15}}},
 {"transform":[{"filter":"datum.p=='D'&&datum.k=='b'"}],"mark":{"type":"rect","fill":"white","stroke":"white","strokeWidth":2},"encoding":{"x":{"field":"lo","type":"quantitative","axis":null},"x2":{"field":"hi"},"y":{"field":"n","type":"quantitative","axis":{"orient":"right","values":[0,1,2,3,4,5,6,7,8,9,10,11,12,13,14],"labels":false,"tickSize":-4,"title":null,"zindex":2}},"y2":{"datum":15}}},
 {"transform":[{"filter":"datum.p=='D'&&datum.k=='b'"}],"mark":{"type":"rect","fill":"transparent","stroke":"black","strokeWidth":2},"encoding":{"x":{"field":"lo","type":"quantitative","axis":{"orient":"bottom","values":[0.4,0.5,0.6,0.7,0.8,0.9,1,1.1,1.2,1.3,1.4,1.5,1.6,1.7,1.8,1.9,2,2.1,2.2],"labelExpr":"abs(round(datum.value*10))%2==0 ? format(datum.value,'.1f') : ''","labelAngle":270,"tickSize":6,"labelPadding":4,"title":null,"zindex":2}},"x2":{"field":"hi"},"y":{"field":"n","type":"quantitative","axis":{"orient":"left","values":[0,2.5,5,7.5,10,12.5,15],"labelExpr":"datum.value%5==0 ? datum.label : ''","tickSize":5,"labelPadding":4,"title":null,"zindex":2}},"y2":{"datum":0}}},
 {"transform":[{"filter":"datum.p=='D'&&datum.k=='c'"}],"mark":{"type":"line","color":"black","strokeWidth":1,"interpolate":"monotone","clip":true},"encoding":{"x":{"field":"x","type":"quantitative","axis":null},"y":{"field":"y","type":"quantitative","axis":null}}},
 {"transform":[{"filter":"datum.p=='D'&&datum.k=='lt'"}],"mark":{"type":"text","style":"letter"},"encoding":{"x":{"field":"x","type":"quantitative","axis":null},"y":{"field":"y","type":"quantitative","axis":null},"text":{"field":"t"}}},
 {"transform":[{"filter":"datum.p=='D'&&datum.k=='sp'"}],"mark":{"type":"text","style":"species"},"encoding":{"x":{"field":"x","type":"quantitative","axis":null},"y":{"field":"y","type":"quantitative","axis":null},"text":{"field":"t"}}},
 {"transform":[{"filter":"datum.p=='D'&&datum.k=='dt'"}],"mark":{"type":"text","style":"date"},"encoding":{"x":{"field":"x","type":"quantitative","axis":null},"y":{"field":"y","type":"quantitative","axis":null},"text":{"field":"t"}}}
]},
{"width":432,"height":238,"resolve":{"axis":{"x":"independent","y":"independent"}},"layer":[
 {"transform":[{"filter":"datum.p=='E'&&datum.k=='b'"}],"mark":{"type":"rect","fill":{"gradient":"linear","x1":0,"y1":0,"x2":0.14037,"y2":1.10883,"stops":[{"offset":0,"color":"#000"},{"offset":0.01833,"color":"#000"},{"offset":0.01833,"color":"#fff"},{"offset":0.03333,"color":"#fff"},{"offset":0.03333,"color":"#000"},{"offset":0.05167,"color":"#000"},{"offset":0.05167,"color":"#fff"},{"offset":0.06667,"color":"#fff"},{"offset":0.06667,"color":"#000"},{"offset":0.085,"color":"#000"},{"offset":0.085,"color":"#fff"},{"offset":0.1,"color":"#fff"},{"offset":0.1,"color":"#000"},{"offset":0.11833,"color":"#000"},{"offset":0.11833,"color":"#fff"},{"offset":0.13333,"color":"#fff"},{"offset":0.13333,"color":"#000"},{"offset":0.15167,"color":"#000"},{"offset":0.15167,"color":"#fff"},{"offset":0.16667,"color":"#fff"},{"offset":0.16667,"color":"#000"},{"offset":0.185,"color":"#000"},{"offset":0.185,"color":"#fff"},{"offset":0.2,"color":"#fff"},{"offset":0.2,"color":"#000"},{"offset":0.21833,"color":"#000"},{"offset":0.21833,"color":"#fff"},{"offset":0.23333,"color":"#fff"},{"offset":0.23333,"color":"#000"},{"offset":0.25167,"color":"#000"},{"offset":0.25167,"color":"#fff"},{"offset":0.26667,"color":"#fff"},{"offset":0.26667,"color":"#000"},{"offset":0.285,"color":"#000"},{"offset":0.285,"color":"#fff"},{"offset":0.3,"color":"#fff"},{"offset":0.3,"color":"#000"},{"offset":0.31833,"color":"#000"},{"offset":0.31833,"color":"#fff"},{"offset":0.33333,"color":"#fff"},{"offset":0.33333,"color":"#000"},{"offset":0.35167,"color":"#000"},{"offset":0.35167,"color":"#fff"},{"offset":0.36667,"color":"#fff"},{"offset":0.36667,"color":"#000"},{"offset":0.385,"color":"#000"},{"offset":0.385,"color":"#fff"},{"offset":0.4,"color":"#fff"},{"offset":0.4,"color":"#000"},{"offset":0.41833,"color":"#000"},{"offset":0.41833,"color":"#fff"},{"offset":0.43333,"color":"#fff"},{"offset":0.43333,"color":"#000"},{"offset":0.45167,"color":"#000"},{"offset":0.45167,"color":"#fff"},{"offset":0.46667,"color":"#fff"},{"offset":0.46667,"color":"#000"},{"offset":0.485,"color":"#000"},{"offset":0.485,"color":"#fff"},{"offset":0.5,"color":"#fff"},{"offset":0.5,"color":"#000"},{"offset":0.51833,"color":"#000"},{"offset":0.51833,"color":"#fff"},{"offset":0.53333,"color":"#fff"},{"offset":0.53333,"color":"#000"},{"offset":0.55167,"color":"#000"},{"offset":0.55167,"color":"#fff"},{"offset":0.56667,"color":"#fff"},{"offset":0.56667,"color":"#000"},{"offset":0.585,"color":"#000"},{"offset":0.585,"color":"#fff"},{"offset":0.6,"color":"#fff"},{"offset":0.6,"color":"#000"},{"offset":0.61833,"color":"#000"},{"offset":0.61833,"color":"#fff"},{"offset":0.63333,"color":"#fff"},{"offset":0.63333,"color":"#000"},{"offset":0.65167,"color":"#000"},{"offset":0.65167,"color":"#fff"},{"offset":0.66667,"color":"#fff"},{"offset":0.66667,"color":"#000"},{"offset":0.685,"color":"#000"},{"offset":0.685,"color":"#fff"},{"offset":0.7,"color":"#fff"},{"offset":0.7,"color":"#000"},{"offset":0.71833,"color":"#000"},{"offset":0.71833,"color":"#fff"},{"offset":0.73333,"color":"#fff"},{"offset":0.73333,"color":"#000"},{"offset":0.75167,"color":"#000"},{"offset":0.75167,"color":"#fff"},{"offset":0.76667,"color":"#fff"},{"offset":0.76667,"color":"#000"},{"offset":0.785,"color":"#000"},{"offset":0.785,"color":"#fff"},{"offset":0.8,"color":"#fff"},{"offset":0.8,"color":"#000"},{"offset":0.81833,"color":"#000"},{"offset":0.81833,"color":"#fff"},{"offset":0.83333,"color":"#fff"},{"offset":0.83333,"color":"#000"},{"offset":0.85167,"color":"#000"},{"offset":0.85167,"color":"#fff"},{"offset":0.86667,"color":"#fff"},{"offset":0.86667,"color":"#000"},{"offset":0.885,"color":"#000"},{"offset":0.885,"color":"#fff"},{"offset":0.9,"color":"#fff"},{"offset":0.9,"color":"#000"},{"offset":0.91833,"color":"#000"},{"offset":0.91833,"color":"#fff"},{"offset":0.93333,"color":"#fff"},{"offset":0.93333,"color":"#000"},{"offset":0.95167,"color":"#000"},{"offset":0.95167,"color":"#fff"},{"offset":0.96667,"color":"#fff"},{"offset":0.96667,"color":"#000"},{"offset":0.985,"color":"#000"},{"offset":0.985,"color":"#fff"},{"offset":1,"color":"#fff"}]}},"encoding":{"x":{"field":"lo","type":"quantitative","scale":{"domain":[0.383,1.817],"nice":false,"zero":false},"axis":{"orient":"top","values":[0.4,0.5,0.6,0.7,0.8,0.9,1,1.1,1.2,1.3,1.4,1.5,1.6,1.7,1.8],"labels":false,"tickSize":-5,"title":null,"zindex":2}},"x2":{"field":"hi"},"y":{"datum":0,"type":"quantitative","scale":{"domain":[0,20],"nice":false,"zero":false},"axis":null},"y2":{"datum":20}}},
 {"transform":[{"filter":"datum.p=='E'&&datum.k=='b'"}],"mark":{"type":"rect","fill":"white","stroke":"white","strokeWidth":2},"encoding":{"x":{"field":"lo","type":"quantitative","axis":null},"x2":{"field":"hi"},"y":{"field":"n","type":"quantitative","axis":{"orient":"right","values":[0,1,2,3,4,5,6,7,8,9,10,11,12,13,14,15,16,17,18,19],"labels":false,"tickSize":-4,"title":null,"zindex":2}},"y2":{"datum":20}}},
 {"transform":[{"filter":"datum.p=='E'&&datum.k=='b'"}],"mark":{"type":"rect","fill":"transparent","stroke":"black","strokeWidth":2},"encoding":{"x":{"field":"lo","type":"quantitative","axis":{"orient":"bottom","values":[0.4,0.5,0.6,0.7,0.8,0.9,1,1.1,1.2,1.3,1.4,1.5,1.6,1.7,1.8],"labelExpr":"abs(round(datum.value*10))%2==0 ? format(datum.value,'.1f') : ''","labelAngle":270,"tickSize":6,"labelPadding":4,"title":null,"zindex":2}},"x2":{"field":"hi"},"y":{"field":"n","type":"quantitative","axis":{"orient":"left","values":[0,2.5,5,7.5,10,12.5,15,17.5,20],"labelExpr":"datum.value%5==0 ? datum.label : ''","tickSize":5,"labelPadding":4,"title":null,"zindex":2}},"y2":{"datum":0}}},
 {"transform":[{"filter":"datum.p=='E'&&datum.k=='c'"}],"mark":{"type":"line","color":"black","strokeWidth":1,"interpolate":"monotone","clip":true},"encoding":{"x":{"field":"x","type":"quantitative","axis":null},"y":{"field":"y","type":"quantitative","axis":null}}},
 {"transform":[{"filter":"datum.p=='E'&&datum.k=='lt'"}],"mark":{"type":"text","style":"letter"},"encoding":{"x":{"field":"x","type":"quantitative","axis":null},"y":{"field":"y","type":"quantitative","axis":null},"text":{"field":"t"}}},
 {"transform":[{"filter":"datum.p=='E'&&datum.k=='sp'"}],"mark":{"type":"text","style":"species"},"encoding":{"x":{"field":"x","type":"quantitative","axis":null},"y":{"field":"y","type":"quantitative","axis":null},"text":{"field":"t"}}},
 {"transform":[{"filter":"datum.p=='E'&&datum.k=='dt'"}],"mark":{"type":"text","style":"date"},"encoding":{"x":{"field":"x","type":"quantitative","axis":null},"y":{"field":"y","type":"quantitative","axis":null},"text":{"field":"t"}}}
]},
{"width":432,"height":238,"resolve":{"axis":{"x":"independent","y":"independent"}},"layer":[
 {"transform":[{"filter":"datum.p=='F'&&datum.k=='b'"}],"mark":{"type":"rect","fill":{"gradient":"linear","x1":0,"y1":0,"x2":0.10734,"y2":1.08806,"stops":[{"offset":0,"color":"#000"},{"offset":0.01833,"color":"#000"},{"offset":0.01833,"color":"#fff"},{"offset":0.03333,"color":"#fff"},{"offset":0.03333,"color":"#000"},{"offset":0.05167,"color":"#000"},{"offset":0.05167,"color":"#fff"},{"offset":0.06667,"color":"#fff"},{"offset":0.06667,"color":"#000"},{"offset":0.085,"color":"#000"},{"offset":0.085,"color":"#fff"},{"offset":0.1,"color":"#fff"},{"offset":0.1,"color":"#000"},{"offset":0.11833,"color":"#000"},{"offset":0.11833,"color":"#fff"},{"offset":0.13333,"color":"#fff"},{"offset":0.13333,"color":"#000"},{"offset":0.15167,"color":"#000"},{"offset":0.15167,"color":"#fff"},{"offset":0.16667,"color":"#fff"},{"offset":0.16667,"color":"#000"},{"offset":0.185,"color":"#000"},{"offset":0.185,"color":"#fff"},{"offset":0.2,"color":"#fff"},{"offset":0.2,"color":"#000"},{"offset":0.21833,"color":"#000"},{"offset":0.21833,"color":"#fff"},{"offset":0.23333,"color":"#fff"},{"offset":0.23333,"color":"#000"},{"offset":0.25167,"color":"#000"},{"offset":0.25167,"color":"#fff"},{"offset":0.26667,"color":"#fff"},{"offset":0.26667,"color":"#000"},{"offset":0.285,"color":"#000"},{"offset":0.285,"color":"#fff"},{"offset":0.3,"color":"#fff"},{"offset":0.3,"color":"#000"},{"offset":0.31833,"color":"#000"},{"offset":0.31833,"color":"#fff"},{"offset":0.33333,"color":"#fff"},{"offset":0.33333,"color":"#000"},{"offset":0.35167,"color":"#000"},{"offset":0.35167,"color":"#fff"},{"offset":0.36667,"color":"#fff"},{"offset":0.36667,"color":"#000"},{"offset":0.385,"color":"#000"},{"offset":0.385,"color":"#fff"},{"offset":0.4,"color":"#fff"},{"offset":0.4,"color":"#000"},{"offset":0.41833,"color":"#000"},{"offset":0.41833,"color":"#fff"},{"offset":0.43333,"color":"#fff"},{"offset":0.43333,"color":"#000"},{"offset":0.45167,"color":"#000"},{"offset":0.45167,"color":"#fff"},{"offset":0.46667,"color":"#fff"},{"offset":0.46667,"color":"#000"},{"offset":0.485,"color":"#000"},{"offset":0.485,"color":"#fff"},{"offset":0.5,"color":"#fff"},{"offset":0.5,"color":"#000"},{"offset":0.51833,"color":"#000"},{"offset":0.51833,"color":"#fff"},{"offset":0.53333,"color":"#fff"},{"offset":0.53333,"color":"#000"},{"offset":0.55167,"color":"#000"},{"offset":0.55167,"color":"#fff"},{"offset":0.56667,"color":"#fff"},{"offset":0.56667,"color":"#000"},{"offset":0.585,"color":"#000"},{"offset":0.585,"color":"#fff"},{"offset":0.6,"color":"#fff"},{"offset":0.6,"color":"#000"},{"offset":0.61833,"color":"#000"},{"offset":0.61833,"color":"#fff"},{"offset":0.63333,"color":"#fff"},{"offset":0.63333,"color":"#000"},{"offset":0.65167,"color":"#000"},{"offset":0.65167,"color":"#fff"},{"offset":0.66667,"color":"#fff"},{"offset":0.66667,"color":"#000"},{"offset":0.685,"color":"#000"},{"offset":0.685,"color":"#fff"},{"offset":0.7,"color":"#fff"},{"offset":0.7,"color":"#000"},{"offset":0.71833,"color":"#000"},{"offset":0.71833,"color":"#fff"},{"offset":0.73333,"color":"#fff"},{"offset":0.73333,"color":"#000"},{"offset":0.75167,"color":"#000"},{"offset":0.75167,"color":"#fff"},{"offset":0.76667,"color":"#fff"},{"offset":0.76667,"color":"#000"},{"offset":0.785,"color":"#000"},{"offset":0.785,"color":"#fff"},{"offset":0.8,"color":"#fff"},{"offset":0.8,"color":"#000"},{"offset":0.81833,"color":"#000"},{"offset":0.81833,"color":"#fff"},{"offset":0.83333,"color":"#fff"},{"offset":0.83333,"color":"#000"},{"offset":0.85167,"color":"#000"},{"offset":0.85167,"color":"#fff"},{"offset":0.86667,"color":"#fff"},{"offset":0.86667,"color":"#000"},{"offset":0.885,"color":"#000"},{"offset":0.885,"color":"#fff"},{"offset":0.9,"color":"#fff"},{"offset":0.9,"color":"#000"},{"offset":0.91833,"color":"#000"},{"offset":0.91833,"color":"#fff"},{"offset":0.93333,"color":"#fff"},{"offset":0.93333,"color":"#000"},{"offset":0.95167,"color":"#000"},{"offset":0.95167,"color":"#fff"},{"offset":0.96667,"color":"#fff"},{"offset":0.96667,"color":"#000"},{"offset":0.985,"color":"#000"},{"offset":0.985,"color":"#fff"},{"offset":1,"color":"#fff"}]}},"encoding":{"x":{"field":"lo","type":"quantitative","scale":{"domain":[0.38,2.235],"nice":false,"zero":false},"axis":{"orient":"top","values":[0.4,0.5,0.6,0.7,0.8,0.9,1,1.1,1.2,1.3,1.4,1.5,1.6,1.7,1.8,1.9,2,2.1,2.2],"labels":false,"tickSize":-5,"title":null,"zindex":2}},"x2":{"field":"hi"},"y":{"datum":0,"type":"quantitative","scale":{"domain":[0,25],"nice":false,"zero":false},"axis":null},"y2":{"datum":25}}},
 {"transform":[{"filter":"datum.p=='F'&&datum.k=='b'"}],"mark":{"type":"rect","fill":"white","stroke":"white","strokeWidth":2},"encoding":{"x":{"field":"lo","type":"quantitative","axis":null},"x2":{"field":"hi"},"y":{"field":"n","type":"quantitative","axis":{"orient":"right","values":[0,1,2,3,4,5,6,7,8,9,10,11,12,13,14,15,16,17,18,19,20,21,22,23,24],"labels":false,"tickSize":-4,"title":null,"zindex":2}},"y2":{"datum":25}}},
 {"transform":[{"filter":"datum.p=='F'&&datum.k=='b'"}],"mark":{"type":"rect","fill":"transparent","stroke":"black","strokeWidth":2},"encoding":{"x":{"field":"lo","type":"quantitative","axis":{"orient":"bottom","values":[0.4,0.5,0.6,0.7,0.8,0.9,1,1.1,1.2,1.3,1.4,1.5,1.6,1.7,1.8,1.9,2,2.1,2.2],"labelExpr":"abs(round(datum.value*10))%2==0 ? format(datum.value,'.1f') : ''","labelAngle":270,"tickSize":6,"labelPadding":4,"title":null,"zindex":2}},"x2":{"field":"hi"},"y":{"field":"n","type":"quantitative","axis":{"orient":"left","values":[0,2.5,5,7.5,10,12.5,15,17.5,20,22.5,25],"labelExpr":"datum.value%5==0 ? datum.label : ''","tickSize":5,"labelPadding":4,"title":null,"zindex":2}},"y2":{"datum":0}}},
 {"transform":[{"filter":"datum.p=='F'&&datum.k=='c'"}],"mark":{"type":"line","color":"black","strokeWidth":1,"interpolate":"monotone","clip":true},"encoding":{"x":{"field":"x","type":"quantitative","axis":null},"y":{"field":"y","type":"quantitative","axis":null}}},
 {"transform":[{"filter":"datum.p=='F'&&datum.k=='lt'"}],"mark":{"type":"text","style":"letter"},"encoding":{"x":{"field":"x","type":"quantitative","axis":null},"y":{"field":"y","type":"quantitative","axis":null},"text":{"field":"t"}}},
 {"transform":[{"filter":"datum.p=='F'&&datum.k=='sp'"}],"mark":{"type":"text","style":"species"},"encoding":{"x":{"field":"x","type":"quantitative","axis":null},"y":{"field":"y","type":"quantitative","axis":null},"text":{"field":"t"}}},
 {"transform":[{"filter":"datum.p=='F'&&datum.k=='dt'"}],"mark":{"type":"text","style":"date"},"encoding":{"x":{"field":"x","type":"quantitative","axis":null},"y":{"field":"y","type":"quantitative","axis":null},"text":{"field":"t"}}}
]}
],
"config": {
 "view": {"stroke": null},
 "axis": {"labelFont": "Liberation Sans", "labelFontSize": 26, "labelColor": "#222222", "domainColor": "black", "domainWidth": 1.5, "tickColor": "black", "tickWidth": 1.5, "grid": false, "labelFlush": false, "labelOverlap": false},
 "style": {
  "letter": {"font": "Liberation Sans", "fontWeight": "bold", "fontSize": 34, "align": "left", "baseline": "alphabetic", "fill": "black"},
  "species": {"font": "Liberation Sans", "fontWeight": "bold", "fontStyle": "italic", "fontSize": 29, "align": "left", "baseline": "alphabetic", "fill": "black"},
  "date": {"font": "Liberation Sans", "fontWeight": "normal", "fontSize": 27, "align": "left", "baseline": "alphabetic", "fill": "#1a1a1a"}
 }
}
}
